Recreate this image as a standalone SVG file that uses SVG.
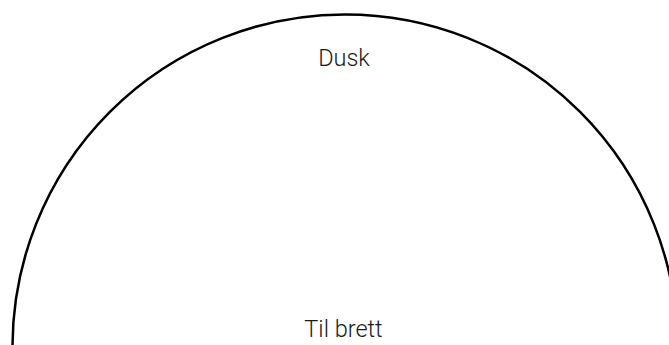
<svg xmlns="http://www.w3.org/2000/svg" width="669" height="345" viewBox="0 0 669 345">
<style>
.lbl{font-family:Roboto,"Liberation Sans",sans-serif;font-size:23.5px;font-weight:300;fill:#1a1a1a;text-anchor:middle}
.arc{fill:none;stroke:#000;stroke-width:2.5}
</style>
<rect width="669" height="345" fill="#fff"/>
<g id="connectors"></g>
<g id="arc-node">
<circle class="arc" cx="345" cy="347" r="332.5"/>
</g>
<g id="dusk"><text class="lbl" x="344" y="66">Dusk</text></g>
<g id="til-brett"><text class="lbl" x="343.5" y="337">Til brett</text></g>
</svg>
